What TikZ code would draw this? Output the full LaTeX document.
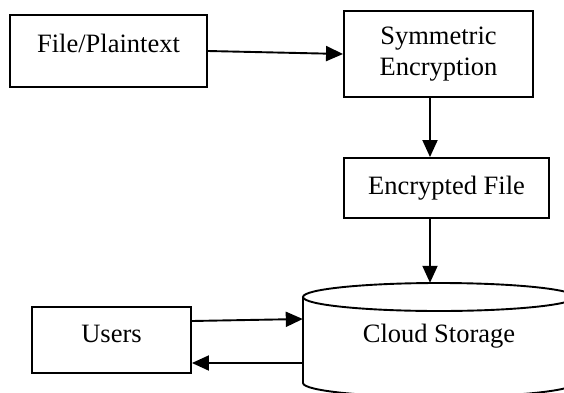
\documentclass[tikz,border=0pt]{standalone}
\usepackage{fontspec}
\setmainfont{Liberation Serif}
\usetikzlibrary{arrows.meta,calc}

\tikzset{
  procbox/.style={draw, line width=1.9pt, inner sep=0pt, align=center,
    font=\fontsize{26.5}{31}\selectfont},
  label text/.style={inner sep=0pt, font=\fontsize{26.5}{31}\selectfont},
  flow/.style={line width=1.9pt, -{Triangle[length=17pt,width=15pt]}},
  drum/.style={line width=1.9pt, fill=white},
}

\begin{document}
\begin{tikzpicture}[x=1pt,y=1pt]
  \useasboundingbox (0,0) rectangle (564,392);
  \clip (0,0) rectangle (564,392);

  % process boxes
  \node[procbox, minimum width=197, minimum height=72, text height=18, text depth=16]
    (plain) at (108.5,341) {File/Plaintext};
  \node[procbox, minimum width=189, minimum height=86]
    (sym) at (438.5,338) {Symmetric\\Encryption};
  \node[procbox, minimum width=205, minimum height=60, text height=18, text depth=6]
    (enc) at (446.5,204) {Encrypted File};
  \node[procbox, minimum width=159, minimum height=66, text height=18, text depth=14]
    (users) at (111.5,52) {Users};

  % storage drum: side walls, bottom rim and top cap
  \draw[drum] (303,95) -- (303,9)
    arc[start angle=180, end angle=360, x radius=136, y radius=14] -- (575,95);
  \draw[drum] (439,95) ellipse[x radius=136, y radius=14];
  \node[label text, minimum width=272, minimum height=100, text height=18, text depth=0]
    (store) at (439,59) {Cloud Storage};

  % flow of the data
  \coordinate (spine) at (430,0);
  \draw[flow] (plain.east) -- (sym.west);
  \draw[flow] (sym.south -| spine) -- (enc.north -| spine);
  \draw[flow] (enc.south -| spine) -- (store.north -| spine);
  \draw[flow] ($(users.east)+(0,19)$) -- ($(store.west)+(0,14)$);
  \draw[flow] ($(store.west)+(0,-30)$) -- ($(users.east)+(0,-23)$);
\end{tikzpicture}
\end{document}
